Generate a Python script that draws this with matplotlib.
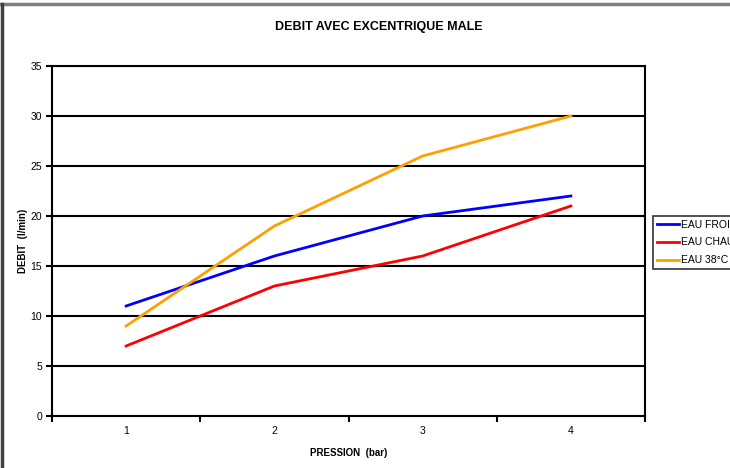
import matplotlib
matplotlib.use('Agg')
import matplotlib.pyplot as plt
from matplotlib.lines import Line2D

plt.rcParams['font.family'] = ['Liberation Sans', 'DejaVu Sans']

pression = [1, 2, 3, 4]
eau_froide = [11, 16, 20, 22]
eau_chaude = [7, 13, 16, 21]
eau_38 = [9, 19, 26, 30]
y_ticks = [0, 5, 10, 15, 20, 25, 30, 35]

fig = plt.figure(figsize=(7.3, 4.68), dpi=100)
ax = fig.add_axes([52/730, 52/468, (645-52)/730, (416-66)/468])

ax.plot(pression, eau_froide, color='#0000ff', lw=2, label='EAU FROIDE')
ax.plot(pression, eau_chaude, color='#ff0000', lw=2, label='EAU CHAUDE')
ax.plot(pression, eau_38, color='#ffa000', lw=2, label='EAU 38\u00b0C')

ax.set_xlim(0.5, 4.5)
ax.set_ylim(0, 35)
ax.set_yticks(y_ticks)
for y in y_ticks[1:]:
    ax.axhline(y, color='black', lw=1.5, zorder=0)

# category axis: ticks between categories, labels centered
ax.set_xticks([0.5, 1.5, 2.5, 3.5, 4.5])
ax.set_xticklabels([])
ax.set_xticks(pression, minor=True)
ax.set_xticklabels([str(p) for p in pression], minor=True)
ax.tick_params(axis='x', which='major', length=4, width=1.5, direction='out')
ax.tick_params(axis='x', which='minor', length=0, pad=7, labelsize=7.5)
ax.tick_params(axis='y', length=4, width=1.5, direction='out', labelsize=7.5, pad=3)

for s in ax.spines.values():
    s.set_linewidth(1.5)

ax.set_xlabel('PRESSION  (bar)', fontsize=7, fontweight='bold', labelpad=9)
ax.set_ylabel('DEBIT  (l/min)', fontsize=7, fontweight='bold', labelpad=2)
fig.text(379/730, 1-27/468, 'DEBIT AVEC EXCENTRIQUE MALE', ha='center', va='center',
         fontsize=9, fontweight='bold')

leg = fig.legend(loc='upper left', bbox_to_anchor=(653/730, 1-216/468), fontsize=7.5,
                 frameon=True, fancybox=False, edgecolor='black', handlelength=2.1,
                 handletextpad=0.2, borderpad=0.35, labelspacing=0.75, borderaxespad=0)
leg.get_frame().set_linewidth(1.2)

# grey frame at top and left
fig.add_artist(Line2D([0, 1], [1-4/468, 1-4/468], transform=fig.transFigure, color='#7f7f7f', lw=2.5))
fig.add_artist(Line2D([2/730, 2/730], [0, 1-4/468], transform=fig.transFigure, color='#404040', lw=2.5))

fig.savefig('out.png', dpi=100)
